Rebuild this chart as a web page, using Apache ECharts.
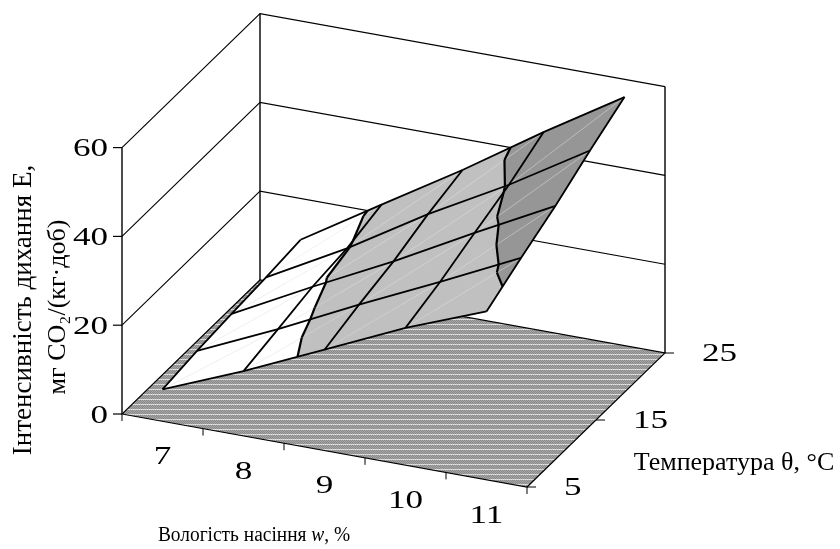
<!DOCTYPE html>
<html>
<head>
<meta charset="utf-8">
<script src="https://cdn.jsdelivr.net/npm/echarts@6/dist/echarts.min.js"></script>
<style>html,body{margin:0;padding:0;background:#fff}#c{width:840px;height:549px}</style>
</head>
<body>
<div id="c"></div>
<script>
// ---- values ----
const wValues = [7, 8, 9, 10, 11];
const thetaValues = [5, 10, 15, 20, 25];
const E_theta5  = [7.2, 14.6, 22.7, 30.9, 37.9];
const E_theta10 = [8.3, 16.5, 25.3, 33.7, 42.4];
const E_theta15 = [9.1, 18.5, 27.5, 37.2, 46.6];
const E_theta20 = [9.8, 19.6, 30.6, 40.5, 51.5];
const E_theta25 = [10.7, 21.9, 33.0, 44.8, 56.0];
const eRows = [E_theta5, E_theta10, E_theta15, E_theta20, E_theta25];
const eTicks = [0, 20, 40, 60];
const thetaTicks = [5, 15, 25];
const bands = [[0, 20, '#ffffff'], [20, 40, '#c0c0c0'], [40, 60, '#969696']];
const contourLevels = [20, 40];
const yTitle1 = 'Інтенсивність дихання Е,';
const yTitle2 = 'мг СО₂/(кг·доб)';
const xTitleA = 'Вологість насіння ', xTitleB = 'w', xTitleC = ', %';
const zTitle = 'Температура θ, °С';

// ---- 3D box projection (oblique view) ----
const O = [122, 414], WV = [81, 14.6], TV = [138, -134], EV = 4.44;
const wMin = 6.5, thMin = 5, thMax = 25;
const FONT = '"Liberation Serif","Times New Roman",serif';

function proj3(w, th, e) {
  const a = w - wMin, b = (th - thMin) / (thMax - thMin);
  return [O[0] + a * WV[0] + b * TV[0], O[1] + a * WV[1] + b * TV[1] - e * EV];
}

// floor pattern
function floorPattern() {
  const c = document.createElement('canvas');
  c.width = 4; c.height = 5;
  const g = c.getContext('2d');
  for (let y = 0; y < 5; y++) for (let x = 0; x < 4; x++) {
    if (y === 4) g.fillStyle = (x % 2) ? '#e6e6e6' : '#cfcfcf';
    else g.fillStyle = ((x + y) % 2) ? '#a6a6a6' : '#8a8a8a';
    g.fillRect(x, y, 1, 1);
  }
  return { image: c, repeat: 'repeat' };
}
const FLOOR_FILL = floorPattern();

function layer(items, z, draw) {
  return {
    type: 'custom', coordinateSystem: 'cartesian2d', silent: true, animation: false, z: z, clip: false,
    data: items.map((_, i) => [i, 0]),
    encode: { x: 0, y: 1 },
    renderItem: (params, api) => {
      const P = (w, th, e) => api.coord(proj3(w, th, e));
      return draw(items[params.dataIndex], P, api);
    }
  };
}
const stroke = (lw, col) => ({ stroke: col || '#000', lineWidth: lw, fill: null });
const pline = (pts, lw, col) => ({ type: 'polyline', shape: { points: pts }, style: stroke(lw, col), silent: true });

// triangles of the surface
const triangles = [];
for (let j = thetaValues.length - 2; j >= 0; j--) {
  for (let i = 0; i < wValues.length - 1; i++) {
    const v = (a, b) => [wValues[a], thetaValues[b], eRows[b][a]];
    triangles.push([v(i, j), v(i + 1, j), v(i + 1, j + 1)]);
    triangles.push([v(i, j), v(i + 1, j + 1), v(i, j + 1)]);
  }
}
function lerp(a, b, t) { return [a[0] + (b[0] - a[0]) * t, a[1] + (b[1] - a[1]) * t, a[2] + (b[2] - a[2]) * t]; }
function clip(poly, level, keepAbove) {
  const out = [];
  for (let k = 0; k < poly.length; k++) {
    const a = poly[k], b = poly[(k + 1) % poly.length];
    const ina = keepAbove ? a[2] >= level : a[2] <= level;
    const inb = keepAbove ? b[2] >= level : b[2] <= level;
    if (ina) out.push(a);
    if (ina !== inb) out.push(lerp(a, b, (level - a[2]) / (b[2] - a[2])));
  }
  return out;
}
const bandPolys = [];
triangles.forEach(t => bands.forEach(b => {
  const p = clip(clip(t, b[0], true), b[1], false);
  if (p.length >= 3) bandPolys.push({ pts: p, color: b[2] });
}));
const contourSegs = [];
triangles.forEach(t => contourLevels.forEach(L => {
  const s = [];
  for (let k = 0; k < 3; k++) {
    const a = t[k], b = t[(k + 1) % 3];
    if ((a[2] - L) * (b[2] - L) < 0) s.push(lerp(a, b, (L - a[2]) / (b[2] - a[2])));
  }
  if (s.length === 2) contourSegs.push(s);
}));
const diagonals = [];
for (let j = 0; j < thetaValues.length - 1; j++) for (let i = 0; i < wValues.length - 1; i++) diagonals.push([i, j]);

const wEdges = [];
for (let k = 0; k <= wValues.length; k++) wEdges.push(wMin + k);

const texts = [];
wValues.forEach(w => texts.push({ t: String(w), w: w, th: 5, e: 0, dx: 0, dy: 36, align: 'center', sx: 1.35 }));
thetaTicks.forEach(th => texts.push({ t: String(th), w: wMin + 5, th: th, e: 0, dx: 37, dy: 1, align: 'left', sx: 1.35 }));
eTicks.forEach(e => texts.push({ t: String(e), w: wMin, th: 5, e: e, dx: -14, dy: 2, align: 'right', sx: 1.35 }));

const W5 = wMin + 5;
const option = {
  animation: false,
  backgroundColor: '#fff',
  grid: { left: 0, right: 0, top: 0, bottom: 0 },
  xAxis: { type: 'value', min: 0, max: 840, show: false },
  yAxis: { type: 'value', min: 0, max: 549, inverse: true, show: false },
  series: [
    // floor
    layer([0], 1, (_, P) => ({
      type: 'polygon',
      shape: { points: [P(wMin, 5, 0), P(W5, 5, 0), P(W5, 25, 0), P(wMin, 25, 0)] },
      style: { fill: FLOOR_FILL, stroke: '#000', lineWidth: 1.2 }, silent: true
    })),
    // walls: level lines
    layer(eTicks.slice(1), 2, (e, P) => pline([P(wMin, 5, e), P(wMin, 25, e), P(W5, 25, e)], 1.1)),
    // wall verticals
    layer([[wMin, 5], [wMin, 25], [W5, 25]], 2, (c, P) => pline([P(c[0], c[1], 0), P(c[0], c[1], 60)], 1.4)),
    // height ticks
    layer(eTicks, 3, (e, P) => { const p = P(wMin, 5, e); return pline([[p[0] - 9, p[1]], p], 1.2); }),
    // moisture ticks
    layer(wEdges, 3, (w, P) => { const p = P(w, 5, 0); return pline([p, [p[0], p[1] + 7]], 1); }),
    // temperature ticks
    layer(thetaTicks, 3, (th, P) => { const p = P(W5, th, 0); return pline([p, [p[0] + 9, p[1]]], 1); }),
    // surface bands
    layer(bandPolys, 4, (b, P) => ({
      type: 'polygon',
      shape: { points: b.pts.map(v => P(v[0], v[1], v[2])) },
      style: { fill: b.color, stroke: b.color, lineWidth: 0.6 }, silent: true
    })),
    // faint triangle diagonals
    layer(diagonals, 5, (d, P) => {
      const [i, j] = d;
      return pline([
        P(wValues[i], thetaValues[j], eRows[j][i]),
        P(wValues[i + 1], thetaValues[j + 1], eRows[j + 1][i + 1])
      ], 0.6, 'rgba(225,225,225,0.75)');
    }),
    // mesh along temperature
    layer(wValues.map((w, i) => i), 6, (i, P) =>
      pline(thetaValues.map((th, j) => P(wValues[i], th, eRows[j][i])), 1.8)),
    // mesh along moisture
    layer(thetaValues.map((th, j) => j), 6, (j, P) =>
      pline(wValues.map((w, i) => P(w, thetaValues[j], eRows[j][i])), 1.8)),
    // contour lines
    layer(contourSegs, 7, (s, P) => pline(s.map(v => P(v[0], v[1], v[2])), 2.2)),
    // tick labels
    layer(texts, 8, (t, P) => {
      const p = P(t.w, t.th, t.e);
      return {
        type: 'text', x: p[0] + t.dx, y: p[1] + t.dy, scaleX: t.sx, silent: true,
        style: { text: t.t, x: 0, y: 0, textAlign: t.align, textVerticalAlign: 'middle',
          font: '26px ' + FONT, fill: '#000' }
      };
    }),
    // axis titles
    layer([
      { text: yTitle1, x: 24, y: 310, rot: Math.PI / 2, size: 27, sx: 1 },
      { text: yTitle2, x: 58, y: 307, rot: Math.PI / 2, size: 26, sx: 1 },
      { text: '{a|' + xTitleA + '}{b|' + xTitleB + '}{a|' + xTitleC + '}', x: 254, y: 536, rot: 0, size: 20, sx: 0.97,
        rich: { a: { font: '20px ' + FONT, fill: '#000' }, b: { font: 'italic 20px ' + FONT, fill: '#000' } } },
      { text: zTitle, x: 734, y: 463, rot: 0, size: 26, sx: 1 }
    ], 8, (t, P, api) => {
      const p = api.coord([t.x, t.y]);
      return {
        type: 'text', x: p[0], y: p[1], rotation: t.rot, scaleX: t.sx, silent: true,
        style: { text: t.text, x: 0, y: 0, textAlign: 'center', textVerticalAlign: 'middle',
          font: t.size + 'px ' + FONT, fill: '#000', rich: t.rich }
      };
    })
  ]
};
const chart = echarts.init(document.getElementById('c'), null, { renderer: 'canvas' });
chart.setOption(option);
</script>
</body>
</html>
